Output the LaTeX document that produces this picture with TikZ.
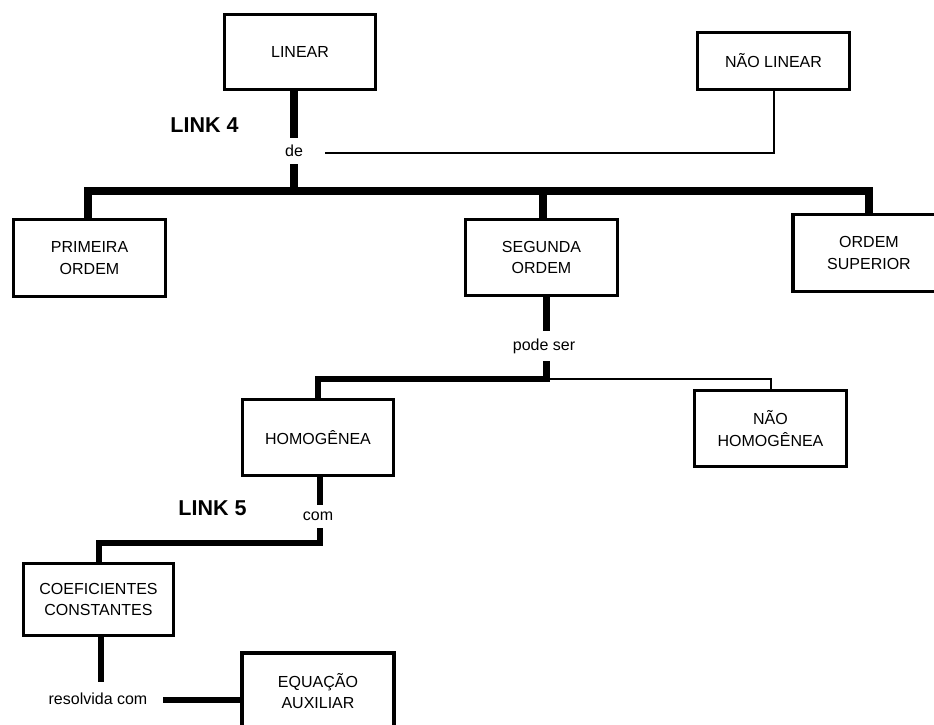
\documentclass[tikz,border=0pt]{standalone}
\usepackage{fontspec}
\setmainfont{Liberation Sans}
\begin{document}
\begin{tikzpicture}[x=1pt,y=-1pt,
  box/.style={draw, line width=3.3pt, minimum width=152pt, minimum height=76pt,
    inner sep=2pt, align=center, font=\fontsize{16}{21.5}\selectfont},
  lbl/.style={inner sep=0pt, font=\fontsize{16}{19}\selectfont},
  linklbl/.style={inner sep=0pt, font=\fontsize{21.5}{24}\selectfont\bfseries},
  heavy/.style={line width=8pt, line join=miter},
  medium/.style={line width=6.3pt, line join=miter},
  fine/.style={line width=2pt}]
\useasboundingbox (0,0) rectangle (934,725);
\clip (0,0) rectangle (934,725);

% concept boxes
\node[box, minimum width=151pt, minimum height=75pt] (lin) at (300,52) {LINEAR};
\node[box, minimum height=57pt] (nlin) at (773.5,61) {NÃO LINEAR};
\node[box, minimum height=77pt] (prim) at (89.5,258) {PRIMEIRA\\ORDEM};
\node[box] (seg) at (541.5,257.5) {SEGUNDA\\ORDEM};
\node[box, minimum height=77pt] (sup) at (869,253) {ORDEM\\SUPERIOR};
\node[box, minimum width=151pt] (hom) at (318,437.5) {HOMOGÊNEA};
\node[box] (nhom) at (770.5,428.5) {NÃO\\HOMOGÊNEA};
\node[box, minimum width=150pt, minimum height=72pt] (coef) at (98.5,599.5) {COEFICIENTES\\CONSTANTES};
\node[box] (eq) at (318,691) {EQUAÇÃO\\AUXILIAR};

% link words and headings
\node[linklbl] (l4) at (204.5,125) {LINK 4};
\node[linklbl] (l5) at (212.5,508) {LINK 5};
\node[lbl, minimum height=26pt] (de) at (294,151) {de};
\node[lbl, minimum height=30pt] (pode) at (544,346) {pode ser};
\node[lbl, minimum height=23pt] (com) at (318,516.5) {com};
\node[lbl, minimum height=34pt] (res) at (98,699) {resolvida com};

% junction points
\coordinate (j4) at (294,191);
\coordinate (bl) at (88,191);
\coordinate (bm) at (543,191);
\coordinate (br) at (869,191);
\coordinate (t4) at (325,153);
\coordinate (j2) at (546.5,379);
\coordinate (hl) at (318,379);
\coordinate (j5) at (320,543);
\coordinate (cl) at (99,543);
\coordinate (rx) at (101,690);
\coordinate (t5) at (163,700);

% LINEAR -- de -- orders
\draw[heavy] (lin.south -| j4) -- (de.north -| j4);
\draw[heavy] (de.south -| j4) -- (j4);
\draw[heavy] (prim.north -| bl) -- (bl) -- (br) -- (sup.north -| br);
\draw[heavy] (bm) -- (seg.north -| bm);
\draw[fine] (t4) -| (nlin.south);

% SEGUNDA ORDEM -- pode ser -- kinds
\draw[medium] (seg.south -| j2) -- (pode.north -| j2);
\draw[medium] (pode.south -| j2) -- (j2) -- (hl) -- (hom.north -| hl);
\draw[fine] (j2) -| (nhom.north);

% HOMOGENEA -- com -- coefficients
\draw[medium] (hom.south -| j5) -- (com.north -| j5);
\draw[medium] (com.south -| j5) -- (j5) -- (cl) -- (coef.north -| cl);

% resolvida com -- auxiliary equation
\draw[medium] (coef.south -| rx) -- (res.north -| rx);
\draw[medium] (t5) -- (eq.west |- t5);
\end{tikzpicture}
\end{document}
